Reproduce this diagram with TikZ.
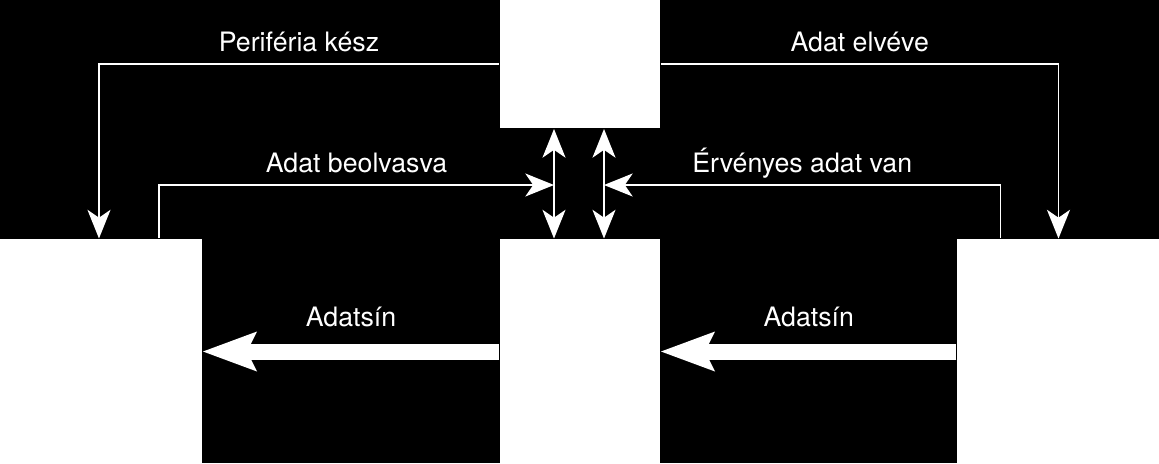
\documentclass[tikz,border=0pt]{standalone}
\usepackage{fontspec}
\setmainfont{TeX Gyre Heros}
\usetikzlibrary{arrows.meta, calc}

\begin{document}
\begin{tikzpicture}[x=0.025cm, y=-0.025cm, line width=1.4pt, white,
                    >={Stealth[length=0.72cm, width=0.58cm, inset=0.2cm, line width=0pt]},
                    font=\fontsize{19}{23}\selectfont]
  \tikzstyle{box}=[fill=white, draw=none, inner sep=0pt]
  \tikzstyle{lbl}=[anchor=base, yshift=0.32cm]
  \tikzstyle{buslbl}=[anchor=base, yshift=0.62cm]
  \tikzstyle{bus}=[line width=0.4cm, -{Stealth[length=1.35cm, width=1cm, inset=0.25cm, line width=0pt]}]

  \fill[black] (0,0) rectangle (1159,463);
  \useasboundingbox (0,0) rectangle (1159,463);

  \node[box, minimum width=4cm, minimum height=3.2cm]     (ctrl) at (580,64)     {};
  \node[box, minimum width=5.05cm, minimum height=5.6cm]  (dev1) at (101,351.5)  {};
  \node[box, minimum width=4cm, minimum height=5.6cm]     (buf)  at (580,351.5)  {};
  \node[box, minimum width=5.05cm, minimum height=5.6cm]  (dev2) at (1058.5,351.5) {};

  \coordinate (ba) at ($(ctrl.south west)+(55,56)$);
  \coordinate (ev) at ($(ctrl.south west)+(105,56)$);

  \draw[->] (ctrl.west) -| ($(dev1.north west)+(100,0)$) node[lbl, pos=.25] {Periféria kész};
  \draw[->] (ctrl.east) -| ($(dev2.north west)+(102,0)$) node[lbl, pos=.25] {Adat elvéve};
  \draw[->] ($(dev1.north west)+(160,0)$) |- (ba) node[lbl, pos=.75] {Adat beolvasva};
  \draw[->] ($(dev2.north west)+(44,0)$) |- (ev) node[lbl, pos=.75] {Érvényes adat van};
  \draw[<->] ($(ctrl.south west)+(55,0)$) -- ($(buf.north west)+(55,0)$);
  \draw[<->] ($(ctrl.south west)+(105,0)$) -- ($(buf.north west)+(105,0)$);
  \draw[bus] (buf.west) -- (dev1.east) node[buslbl, midway] {Adatsín};
  \draw[bus] (dev2.west) -- (buf.east) node[buslbl, midway] {Adatsín};
\end{tikzpicture}
\end{document}
